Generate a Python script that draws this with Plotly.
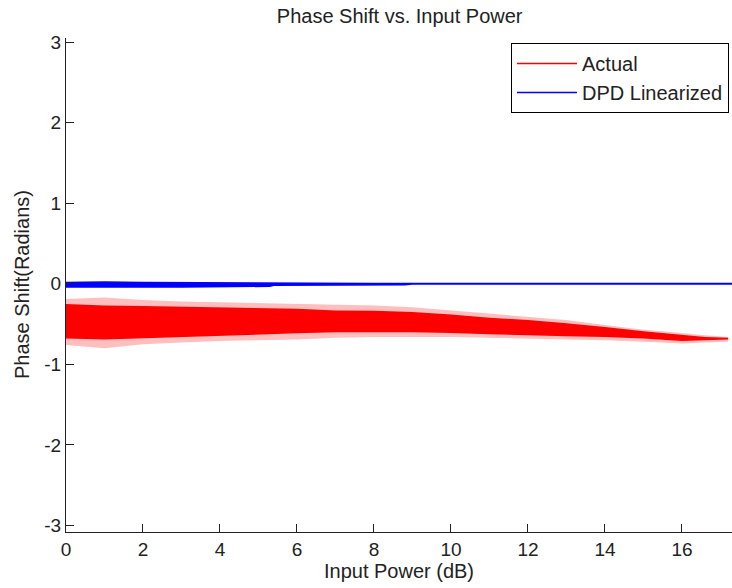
import plotly.graph_objects as go

# ---- data ----
# "Actual" scatter cloud, described by its dense core and sparse fringe envelopes
act_x = [0, 1, 2, 3, 4, 5, 6, 7, 8, 9, 10, 11, 12, 13, 14, 15, 16, 16.6, 17.2]
act_core_hi = [-0.25, -0.27, -0.275, -0.285, -0.29, -0.30, -0.31, -0.33, -0.335, -0.35, -0.38,
               -0.42, -0.45, -0.49, -0.535, -0.59, -0.63, -0.66, -0.67]
act_core_lo = [-0.68, -0.69, -0.67, -0.66, -0.64, -0.63, -0.615, -0.60, -0.60, -0.60, -0.61,
               -0.625, -0.64, -0.65, -0.66, -0.68, -0.71, -0.70, -0.69]
act_fringe_hi = [-0.19, -0.17, -0.20, -0.22, -0.23, -0.24, -0.25, -0.26, -0.27, -0.29, -0.33,
                 -0.37, -0.41, -0.45, -0.51, -0.57, -0.61, -0.64, -0.66]
act_fringe_lo = [-0.76, -0.80, -0.75, -0.73, -0.71, -0.70, -0.69, -0.67, -0.66, -0.66, -0.66,
                 -0.67, -0.68, -0.69, -0.70, -0.72, -0.74, -0.73, -0.72]

# "DPD Linearized" cloud (thin band around zero)
dpd_x = [0, 1, 2, 3, 3.3, 4, 5, 5.3, 5.4, 6, 8, 8.8, 9, 10, 12, 14, 16, 16.6, 17.3]
dpd_hi = [0.025, 0.03, 0.025, 0.022, 0.018, 0.016, 0.016, 0.014, 0.012, 0.012, 0.012, 0.012,
          0.012, 0.012, 0.012, 0.012, 0.012, 0.012, 0.012]
dpd_lo = [-0.05, -0.05, -0.05, -0.048, -0.04, -0.04, -0.04, -0.04, -0.028, -0.028, -0.025,
          -0.022, -0.012, -0.012, -0.012, -0.012, -0.012, -0.012, -0.012]

x_ticks = [0, 2, 4, 6, 8, 10, 12, 14, 16]
y_ticks = [-3, -2, -1, 0, 1, 2, 3]
y_ticktext = ["-3", "-2", "-1", "0", "1", "2", "3"]

title_text = "Phase Shift vs. Input Power"
x_title = "Input Power (dB)"
y_title = "Phase Shift(Radians)"

RED = "#ff0000"
BLUE = "#0000ff"
FONT = "Liberation Sans, Arial, sans-serif"
INK = "#222222"
FS = 20
TFS = 19


def band(x, hi, lo, color, name):
    return go.Scatter(
        x=list(x) + list(x)[::-1],
        y=list(hi) + list(lo)[::-1],
        fill="toself", fillcolor=color, mode="lines",
        line=dict(width=0, color=color), showlegend=False,
        hoverinfo="skip", name=name,
    )


fig = go.Figure()
fig.add_trace(band(act_x, act_fringe_hi, act_fringe_lo, "rgba(255,0,0,0.25)", "Actual fringe"))
fig.add_trace(band(act_x, act_core_hi, act_core_lo, RED, "Actual"))
fig.add_trace(band(dpd_x, dpd_hi, dpd_lo, BLUE, "DPD Linearized"))

# legend entries
fig.add_trace(go.Scatter(x=[None], y=[None], mode="lines", name="Actual",
                         line=dict(color=RED, width=1.5)))
fig.add_trace(go.Scatter(x=[None], y=[None], mode="lines", name="DPD Linearized",
                         line=dict(color=BLUE, width=1.5)))

fig.update_layout(
    width=732, height=588,
    margin=dict(l=66, r=0, t=38, b=56, pad=0),
    paper_bgcolor="white", plot_bgcolor="white",
    font=dict(family=FONT, size=FS, color=INK),
    title=dict(text=title_text, x=0.546, xanchor="center", y=0.973, yanchor="middle",
               font=dict(family=FONT, size=FS, color=INK)),
    showlegend=True,
    legend=dict(x=0.9955, xanchor="right", y=0.99, yanchor="top",
                bgcolor="white", bordercolor="#000000", borderwidth=1,
                font=dict(family=FONT, size=FS, color=INK),
                tracegroupgap=0, itemwidth=60),
    annotations=[dict(text=y_title, xref="paper", yref="paper", x=-0.066, y=0.5,
                      xanchor="center", yanchor="middle", textangle=-90, showarrow=False,
                      font=dict(family=FONT, size=FS, color=INK))],
)

fig.update_xaxes(
    range=[0, 17.3], tickvals=x_ticks, showgrid=False, zeroline=False,
    showline=True, linecolor=INK, linewidth=1, mirror=False,
    ticks="inside", ticklen=8, tickcolor=INK, tickwidth=1,
    tickfont=dict(family=FONT, size=TFS, color=INK),
    title=dict(text=x_title, standoff=4, font=dict(family=FONT, size=FS, color=INK)),
)
fig.update_yaxes(
    range=[-3.08, 3.05], tickvals=y_ticks, ticktext=y_ticktext, showgrid=False, zeroline=False,
    showline=True, linecolor=INK, linewidth=1, mirror=False,
    ticks="inside", ticklen=8, tickcolor=INK, tickwidth=1,
    tickfont=dict(family=FONT, size=TFS, color=INK),
)

fig.write_html("out.html")
